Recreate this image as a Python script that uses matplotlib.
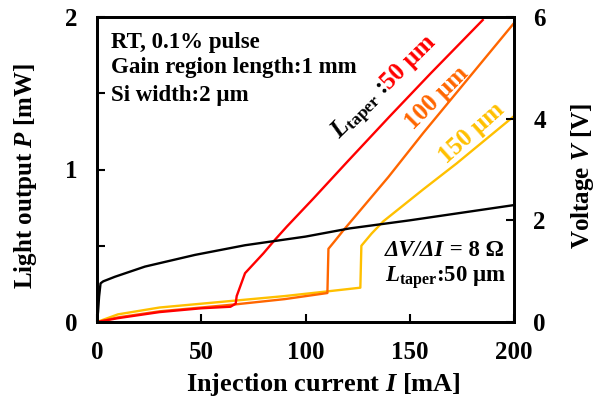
import numpy as np
import matplotlib.pyplot as plt

plt.rcParams['font.family'] = 'Liberation Serif'
plt.rcParams['font.weight'] = 'bold'
plt.rcParams['axes.labelweight'] = 'bold'
plt.rcParams['mathtext.fontset'] = 'custom'
plt.rcParams['mathtext.rm'] = 'Liberation Serif:bold'
plt.rcParams['mathtext.it'] = 'Liberation Serif:italic:bold'
plt.rcParams['mathtext.bf'] = 'Liberation Serif:bold'

# ----- L-I data (light output in mW vs current in mA) -----
i_50 = [0, 10, 30, 50, 64, 66.5, 67, 71, 79.8, 85.4, 91, 103.8, 120, 140.5, 160, 185]
p_50 = [0, 0.025, 0.065, 0.09, 0.10, 0.12, 0.17, 0.32, 0.45, 0.54, 0.625, 0.81, 1.05, 1.35, 1.63, 1.98]

i_100 = [0, 10, 30, 50, 66, 90, 110.5, 111, 114, 118.1, 139.7, 156.5, 200]
p_100 = [0, 0.03, 0.07, 0.095, 0.115, 0.15, 0.19, 0.48, 0.53, 0.60, 0.95, 1.24, 1.96]

i_150 = [0, 10, 30, 50, 66, 90, 110, 126.3, 126.8, 131.7, 137.3, 156.5, 172.5, 200]
p_150 = [0, 0.05, 0.095, 0.12, 0.14, 0.17, 0.2, 0.225, 0.50, 0.58, 0.66, 0.87, 1.04, 1.35]

# ----- V-I data (voltage in V) -----
i_v = [0, 0.5, 1, 1.7, 3, 8.6, 23, 47, 71, 100, 121, 150, 200]
v = [0, 0.2, 0.5, 0.76, 0.8, 0.89, 1.09, 1.32, 1.51, 1.68, 1.84, 2.0, 2.30]

c_red = '#ff0000'
c_orange = '#ff6600'
c_yellow = '#ffc000'

fig = plt.figure(figsize=(5.95, 4.03), dpi=100)
ax = fig.add_axes([97 / 595, 81 / 403, 417 / 595, 305 / 403])
ax2 = ax.twinx()

ax.plot(i_150, p_150, color=c_yellow, lw=1.7)
ax.plot(i_100, p_100, color=c_orange, lw=1.7)
ax.plot(i_50, p_50, color=c_red, lw=1.7)
ax2.plot(i_v, v, color='black', lw=1.7)

ax.set_xlim(0, 200)
ax.set_ylim(0, 2)
ax2.set_ylim(0, 6)
ax.set_xticks([0, 50, 100, 150, 200])
ax.set_yticks([0, 1, 2])
ax.set_yticks([0.5, 1.5], minor=True)
ax2.set_yticks([0, 2, 4, 6])

for a in (ax, ax2):
    for s in a.spines.values():
        s.set_linewidth(2)
ax.tick_params(axis='both', which='both', direction='in', length=6, width=1.5,
               labelsize=18, pad=14)
ax2.tick_params(axis='y', direction='in', length=6, width=1.5, labelsize=18, pad=14)

ax.set_xlabel('Injection current $I$ [mA]', fontsize=19)
ax.set_ylabel('Light output $P$ [mW]', fontsize=18)
ax2.set_ylabel('Voltage $V$ [V]', fontsize=18)
ax.xaxis.set_label_coords(0.542, -0.162)
ax.yaxis.set_label_coords(-0.14, 0.48)
ax2.yaxis.set_label_coords(1.132, 0.48)

fs = 16.5
ax.text(0.034, 0.918, 'RT, 0.1% pulse', transform=ax.transAxes, fontsize=fs, va='center')
ax.text(0.034, 0.833, 'Gain region length:1 mm', transform=ax.transAxes, fontsize=fs, va='center')
ax.text(0.034, 0.744, 'Si width:2 µm', transform=ax.transAxes, fontsize=fs, va='center')

fr = 18
ax.text(0.635, 0.689, r'$L_{\mathrm{taper}}$ :', transform=ax.transAxes, fontsize=fr,
        rotation=45, ha='center', va='center')
ax.text(0.746, 0.852, '50 µm', transform=ax.transAxes, fontsize=fr, color=c_red,
        rotation=45, ha='center', va='center')
ax.text(0.815, 0.734, '100 µm', transform=ax.transAxes, fontsize=fr, color=c_orange,
        rotation=45, ha='center', va='center')
ax.text(0.899, 0.620, '150 µm', transform=ax.transAxes, fontsize=fr, color=c_yellow,
        rotation=42, ha='center', va='center')

t = ax.text(0.691, 0.236, 'ΔV/ΔI', transform=ax.transAxes, fontsize=fs,
            style='italic', va='center')
ax.annotate(' = 8 Ω', xy=(1, 0.5), xycoords=t, fontsize=fs, va='center')
ax.text(0.691, 0.144, r'$L_{\mathrm{taper}}$:50 µm', transform=ax.transAxes,
        fontsize=fs, va='center')

fig.savefig('out.png', dpi=100)
